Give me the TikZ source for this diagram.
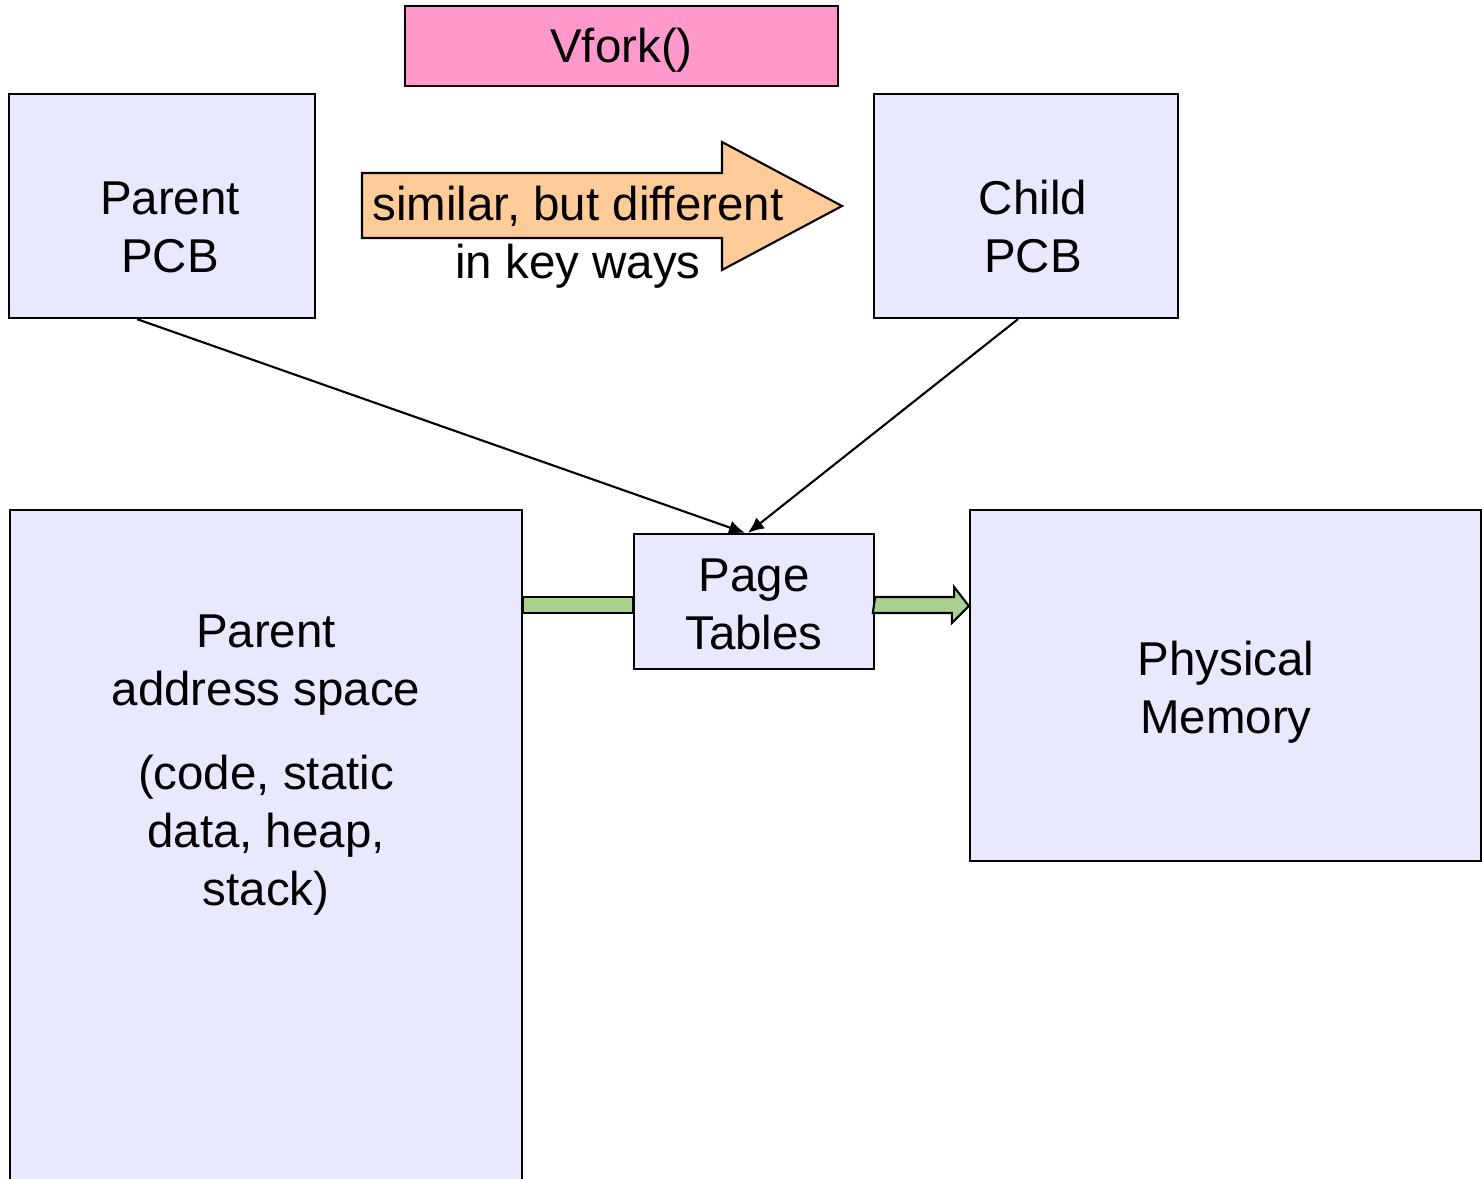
\documentclass[tikz,border=0pt]{standalone}
\usepackage{fontspec}
\setmainfont{Liberation Sans}
\usetikzlibrary{arrows.meta,calc}
\definecolor{boxfill}{HTML}{E8E8FF}
\definecolor{callfill}{HTML}{FF99CC}
\definecolor{hintfill}{HTML}{FFCC99}
\definecolor{mapfill}{HTML}{A9D18E}
\tikzset{
  blk/.style={draw, line width=0.6pt, fill=boxfill, inner sep=0pt},
  txt/.style={align=center, inner sep=0pt, font=\fontsize{13.5}{16.5}\selectfont},
  ptr/.style={line width=0.6pt, -{Latex[length=0.16cm,width=0.14cm]}},
  band/.style={draw, line width=0.6pt, fill=mapfill}
}
\begin{document}
\begin{tikzpicture}[x=0.01cm, y=-0.01cm]
      \useasboundingbox (0,0) rectangle (1482,1179);
      \clip (0,0) rectangle (1482,1179);
      \node[blk, fill=callfill, minimum width=4.33cm, minimum height=0.80cm, txt,
        text height=0.43cm, text depth=0.10cm] (vfork) at (621.5,46) {Vfork()};
      \node[blk, minimum width=3.06cm, minimum height=2.24cm] (ppcb) at (162,206) {};
      \node[blk, minimum width=3.04cm, minimum height=2.24cm] (cpcb) at (1026,206) {};
      \node[blk, minimum width=2.40cm, minimum height=1.35cm] (pt) at (754,601.5) {};
      \node[blk, minimum width=5.12cm, minimum height=8.00cm] (pas) at (266,910) {};
      \node[blk, minimum width=5.11cm, minimum height=3.51cm] (mem) at (1225.5,685.5) {};
      \node[txt] (ppcbtext) at (170,227) {Parent\\PCB};
      \node[txt] (cpcbtext) at (1033,227) {Child\\PCB};
      \node[txt] (pttext) at (754,604) {Page\\Tables};
      \node[txt] (memtext) at (1226,692) {Physical\\Memory};
      \node[txt] (pastext) at (266,765) {Parent\\address space\\[0.26cm](code, static\\data, heap,\\stack)};
      % the copy arrow between the two PCBs
      \draw[line width=0.6pt, fill=hintfill]
        (362,173) -- (722,173) -- (722,142) -- (842,206) -- (722,270) -- (722,238) -- (362,238) -- cycle;
      \node[txt] (hint) at (578,237) {similar, but different\\in key ways};
      % page table mapping
      \draw[band] ($(pas.east |- pt.west)+(0,-4.5)$) rectangle ($(pt.west)+(0,11.5)$);
      \draw[band] ($(pt.east)+(0,-4.5)$) -- ++(79,0) -- ++(0,-10) -- ($(mem.west |- pt.east)+(0,4.5)$)
        -- ++(-17,17) -- ++(0,-10) -- ++(-79,0) -- cycle;
      \begin{scope}[ptr]
        \draw ([xshift=-0.25cm]ppcb.south) to ([xshift=-0.09cm]pt.north);
        \draw ([xshift=-0.08cm]cpcb.south) to ([xshift=-0.06cm]pt.north);
      \end{scope}
    \end{tikzpicture}
\end{document}
